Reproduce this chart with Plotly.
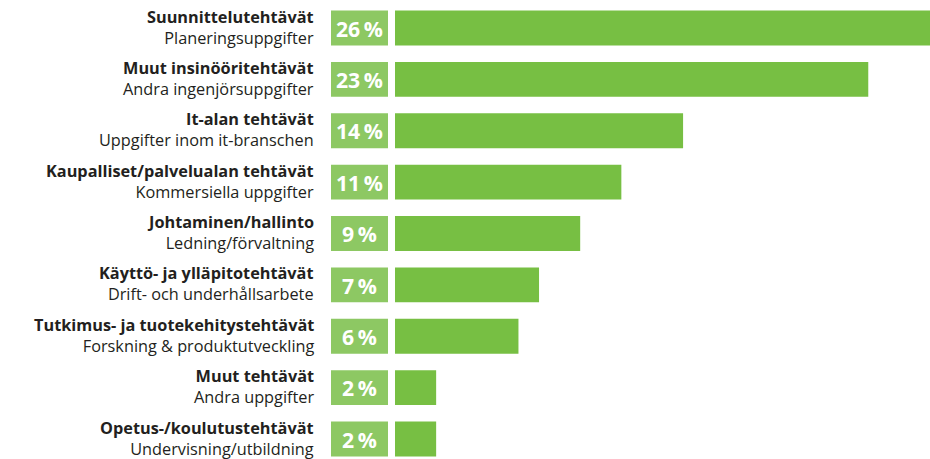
import plotly.graph_objects as go

fi_labels = [
    "Suunnittelutehtävät",
    "Muut insinööritehtävät",
    "It-alan tehtävät",
    "Kaupalliset/palvelualan tehtävät",
    "Johtaminen/hallinto",
    "Käyttö- ja ylläpitotehtävät",
    "Tutkimus- ja tuotekehitystehtävät",
    "Muut tehtävät",
    "Opetus-/koulutustehtävät",
]
sv_labels = [
    "Planeringsuppgifter",
    "Andra ingenjörsuppgifter",
    "Uppgifter inom it-branschen",
    "Kommersiella uppgifter",
    "Ledning/förvaltning",
    "Drift- och underhållsarbete",
    "Forskning & produktutveckling",
    "Andra uppgifter",
    "Undervisning/utbildning",
]
values = [26, 23, 14, 11, 9, 7, 6, 2, 2]

W, H = 930, 459
BAR_GREEN = "#77bf43"
BOX_GREEN = "#8dc863"
TEXT = "#231f20"

idx = list(range(len(values)))

fig = go.Figure()
fig.add_trace(go.Bar(
    x=values, y=idx, orientation="h", xaxis="x", yaxis="y",
    marker=dict(color=BAR_GREEN, line=dict(width=0)), width=0.68,
    hoverinfo="skip", showlegend=False,
))
fig.add_trace(go.Bar(
    x=[1] * len(values), y=idx, orientation="h", xaxis="x2", yaxis="y",
    marker=dict(color=BOX_GREEN, line=dict(width=0)), width=0.68,
    text=[f"{v}\u2009%" for v in values], textposition="inside",
    insidetextanchor="middle",
    textfont=dict(family="Open Sans", size=22, color="white", weight="bold"),
    hoverinfo="skip", showlegend=False,
))

annotations = []
for i, (fi, sv) in enumerate(zip(fi_labels, sv_labels)):
    annotations.append(dict(
        x=316 / W, xref="paper", y=i, yref="y", yshift=1,
        text=f"<b>{fi}</b><br>{sv}", showarrow=False,
        xanchor="right", yanchor="middle", align="right",
        font=dict(family="Open Sans", size=16.3, color=TEXT),
    ))

fig.update_layout(
    width=W, height=H,
    margin=dict(l=0, r=0, t=0, b=0),
    paper_bgcolor="white", plot_bgcolor="white",
    xaxis=dict(domain=[395 / W, 1.0], range=[0, 26], visible=False, fixedrange=True),
    xaxis2=dict(domain=[331 / W, 388 / W], range=[0, 1], visible=False, anchor="y"),
    yaxis=dict(range=[8.389, -0.545], visible=False),
    annotations=annotations,
    uniformtext=dict(minsize=8, mode="show"),
)

fig.write_html(
    "out.html",
    config={"displayModeBar": False},
    post_script="document.body.style.margin='0';document.body.style.overflow='hidden';",
)
